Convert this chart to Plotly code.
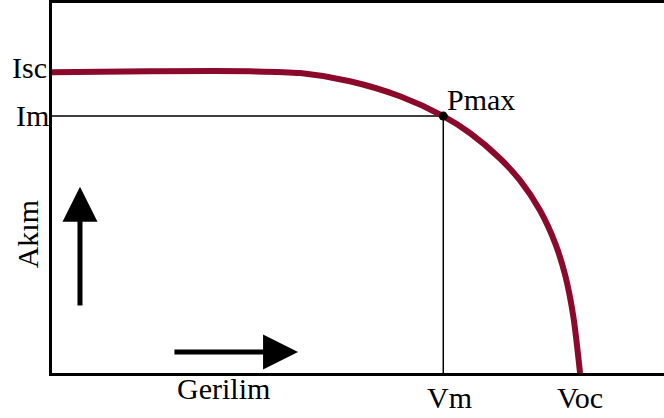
import plotly.graph_objects as go

# I-V curve (normalised: Voc = 1, Isc = 1)
voltage = [0.0, 0.186, 0.375, 0.47, 0.564, 0.659, 0.741, 0.792, 0.848, 0.886, 0.924, 0.953, 0.972, 0.987, 1.0]
current = [1.0, 1.003, 1.003, 0.997, 0.970, 0.920, 0.854, 0.797, 0.714, 0.641, 0.541, 0.431, 0.324, 0.191, 0.0]

Vm, Im = 0.741, 0.854
Voc, Isc = 1.0, 1.0

x_labels = ["Gerilim", "Vm", "Voc"]
y_labels = ["Isc", "Im", "Akım"]

curve_color = "#8B0A2B"
font = dict(family="Liberation Serif", size=30, color="black")

fig = go.Figure()

# Im / Vm guide lines
fig.add_trace(go.Scatter(x=[0, Vm, Vm], y=[Im, Im, 0], mode="lines",
                         line=dict(color="black", width=1.5), hoverinfo="skip"))
# curve
fig.add_trace(go.Scatter(x=voltage, y=current, mode="lines",
                         line=dict(color=curve_color, width=6, shape="spline", smoothing=0.8),
                         hoverinfo="skip"))
# Pmax point
fig.add_trace(go.Scatter(x=[Vm], y=[Im], mode="markers",
                         marker=dict(color="black", size=9), hoverinfo="skip"))

ann = []
ann.append(dict(x=0, y=Isc, text=y_labels[0], showarrow=False, xanchor="right", yanchor="middle",
                xshift=-3, yshift=5, font=font))
ann.append(dict(x=0, y=Im, text=y_labels[1], showarrow=False, xanchor="right", yanchor="middle",
                xshift=-1, yshift=1, font=font))
ann.append(dict(x=Vm, y=Im, text="Pmax", showarrow=False, xanchor="left", yanchor="middle",
                xshift=2, yshift=17, font=font))
ann.append(dict(x=Vm, y=0, text=x_labels[1], showarrow=False, xanchor="center", yanchor="middle",
                xshift=6, yshift=-24, font=font))
ann.append(dict(x=Voc, y=0, text=x_labels[2], showarrow=False, xanchor="center", yanchor="middle",
                yshift=-24, font=font))
ann.append(dict(x=0.324, y=0, text=x_labels[0], showarrow=False, xanchor="center", yanchor="middle",
                yshift=-15, font=font))
ann.append(dict(x=0, y=0.461, text=y_labels[2], showarrow=False, xanchor="center", yanchor="middle",
                xshift=-25, textangle=-90, font=font))
# arrows
ann.append(dict(x=0.466, y=0.07, ax=0.229, ay=0.07, axref="x", ayref="y", xref="x", yref="y",
                text="", showarrow=True, arrowhead=2, arrowwidth=5, arrowsize=1.4,
                arrowcolor="black", standoff=0))
ann.append(dict(x=0.053, y=0.619, ax=0.053, ay=0.219, axref="x", ayref="y", xref="x", yref="y",
                text="", showarrow=True, arrowhead=2, arrowwidth=5, arrowsize=1.4,
                arrowcolor="black", standoff=0))

fig.update_layout(
    width=664, height=418,
    margin=dict(l=52, r=0, t=3, b=45),
    paper_bgcolor="white", plot_bgcolor="white",
    showlegend=False,
    annotations=ann,
    xaxis=dict(range=[0, 1.159], showgrid=False, zeroline=False, showticklabels=False, ticks="",
               showline=True, linewidth=3, linecolor="black", mirror=True, fixedrange=True),
    yaxis=dict(range=[0, 1.23], showgrid=False, zeroline=False, showticklabels=False, ticks="",
               showline=True, linewidth=3, linecolor="black", mirror=False, fixedrange=True),
)

fig.write_html("out.html", config={"displayModeBar": False},
               post_script="document.body.style.margin='0';")
